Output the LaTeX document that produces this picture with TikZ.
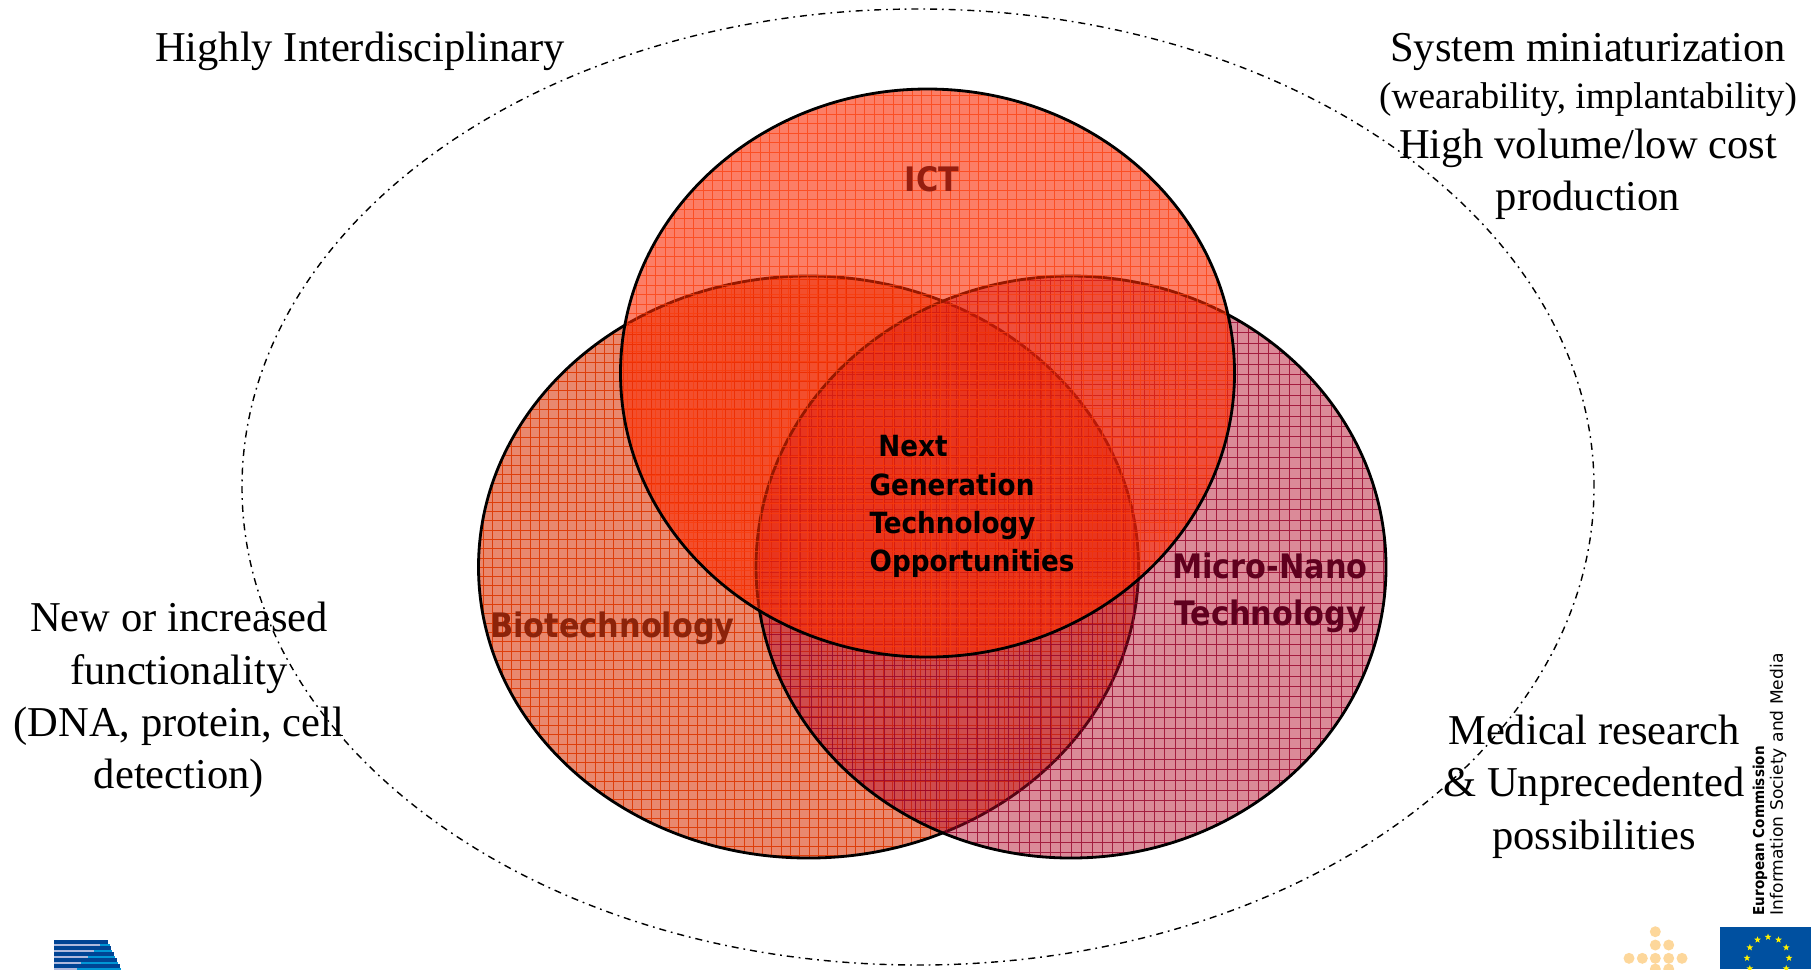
\documentclass[tikz,border=0pt]{standalone}
\usepackage{fontspec}
\setmainfont{Liberation Serif}
\newfontfamily\headfont{DejaVu Sans Condensed}
\newfontfamily\eufont{DejaVu Sans}
\usetikzlibrary{shapes.geometric}
\definecolor{ictfill}{RGB}{250,40,0}
\definecolor{ictgrid}{RGB}{250,60,10}
\definecolor{biofill}{RGB}{226,96,62}
\definecolor{biogrid}{RGB}{222,62,10}
\definecolor{nanofill}{RGB}{180,10,40}
\definecolor{nanogrid}{RGB}{150,0,40}
\definecolor{ictlab}{RGB}{150,30,15}
\definecolor{biolab}{RGB}{140,35,10}
\definecolor{nanolab}{RGB}{95,0,30}
\definecolor{eublue}{RGB}{0,80,160}
\definecolor{stripeblue}{RGB}{0,68,148}
\definecolor{stripecyan}{RGB}{0,150,214}
\definecolor{stripepale}{RGB}{175,185,220}
\definecolor{dotcol}{RGB}{253,215,155}
\begin{document}
\begin{tikzpicture}
\tikzstyle{hint}=[anchor=center,align=center,font=\fontsize{12.1}{14.9}\selectfont,inner sep=0pt]
\tikzstyle{area}=[anchor=center,font=\headfont\bfseries\fontsize{9.6}{13.4}\selectfont,align=center,inner sep=0pt]
\tikzstyle{rim}=[draw=black,line width=0.8pt]
\useasboundingbox (0,0) rectangle (18.11,-9.69);

% outer ring
\draw [line width=0.4pt,dash pattern=on 2pt off 1.4pt on 0.5pt off 1.4pt] (9.18,-4.87) ellipse (6.76 and 4.78);

% biotechnology
\fill [biofill,fill opacity=0.75] (8.085,-5.67) ellipse (3.30 and 2.91);
\begin{scope}
\clip (8.085,-5.67) ellipse (3.30 and 2.91);
\draw [biogrid,line width=0.25pt,step=0.093] (4.7,-8.7) grid (11.5,-2.7);
\end{scope}
\draw [rim] (8.085,-5.67) ellipse (3.30 and 2.91);

% micro-nano
\fill [nanofill,fill opacity=0.48] (10.71,-5.67) ellipse (3.15 and 2.91);
\begin{scope}
\clip (10.71,-5.67) ellipse (3.15 and 2.91);
\draw [nanogrid,line width=0.25pt,opacity=0.8,step=0.104] (7.5,-8.7) grid (13.9,-2.7);
\end{scope}
\draw [rim] (10.71,-5.67) ellipse (3.15 and 2.91);

% ict
\fill [ictfill,fill opacity=0.6] (9.275,-3.73) ellipse (3.07 and 2.84);
\begin{scope}
\clip (9.275,-3.73) ellipse (3.07 and 2.84);
\draw [ictgrid,line width=0.25pt,opacity=0.7,step=0.095] (6.1,-6.7) grid (12.4,-0.8);
\end{scope}
\draw [rim] (9.275,-3.73) ellipse (3.07 and 2.84);

\node [area,text=ictlab] at (9.32,-1.79) (ict) {ICT};
\node [area,text=biolab] at (6.125,-6.28) (bio) {Biotechnology};
\node [area,text=nanolab] at (12.70,-5.93) (nano) {Micro-Nano\\Technology};
\node [area,anchor=west,align=left,text=black,font=\headfont\bfseries\fontsize{8.3}{10.85}\selectfont] at (8.69,-5.065) (next) {\hspace{0.3em}Next\\Generation\\Technology\\Opportunities};

\node [hint] at (3.60,-0.51) (inter) {Highly Interdisciplinary};
\node [hint] at (15.88,-1.265) (mini) {System miniaturization\\[-1.6pt]{\fontsize{10.6}{12}\selectfont (wearability, implantability)}\\[-0.6pt]High volume/low cost\\production};
\node [hint] at (1.79,-7.00) (func) {New or increased\\functionality\\(DNA, protein, cell\\detection)};
\node [hint] at (15.94,-7.865) (med) {Medical research\\\& Unprecedented\\possibilities};

% logos
\foreach \i/\xe/\xa/\xb in {0/1.08/1.00/1.10,1/1.11/0.94/1.12,2/1.14/0.88/1.15,3/1.17/0.81/1.18,4/1.20/0.77/1.21} {
  \fill [stripeblue] (0.54,-9.40-\i*0.06) rectangle (\xe,-9.44-\i*0.06);
  \fill [stripepale] (0.54,-9.44-\i*0.06) rectangle (\xa,-9.455-\i*0.06);
  \fill [stripecyan] (\xa,-9.44-\i*0.06) rectangle (\xb,-9.455-\i*0.06);
}
\foreach \px/\py in {16.553/9.317,16.553/9.45,16.687/9.45,16.29/9.583,16.423/9.583,16.553/9.583,16.687/9.583,16.82/9.583,16.553/9.69,16.687/9.69}
  \fill [dotcol] (\px,-\py) circle (0.055);
\begin{scope}
\clip (0,0) rectangle (18.11,-9.69);
\fill [eublue] (17.20,-9.27) rectangle (18.11,-9.69);
\foreach \a in {0,30,...,330}
  \node [star,star points=5,star point ratio=2.4,fill=yellow,inner sep=0pt,minimum size=0.07cm] at ({17.68+0.21*cos(\a)},{-9.58+0.21*sin(\a)}) (eu\a) {};
\end{scope}
\node [anchor=west,rotate=90,inner sep=0pt,font=\headfont\bfseries\fontsize{4.28}{6}\selectfont] at (17.60,-9.16) (ec) {European Commission};
\node [anchor=west,rotate=90,inner sep=0pt,font=\eufont\fontsize{4.87}{6}\selectfont] at (17.78,-9.16) (ism) {Information Society and Media};
\end{tikzpicture}
\end{document}
